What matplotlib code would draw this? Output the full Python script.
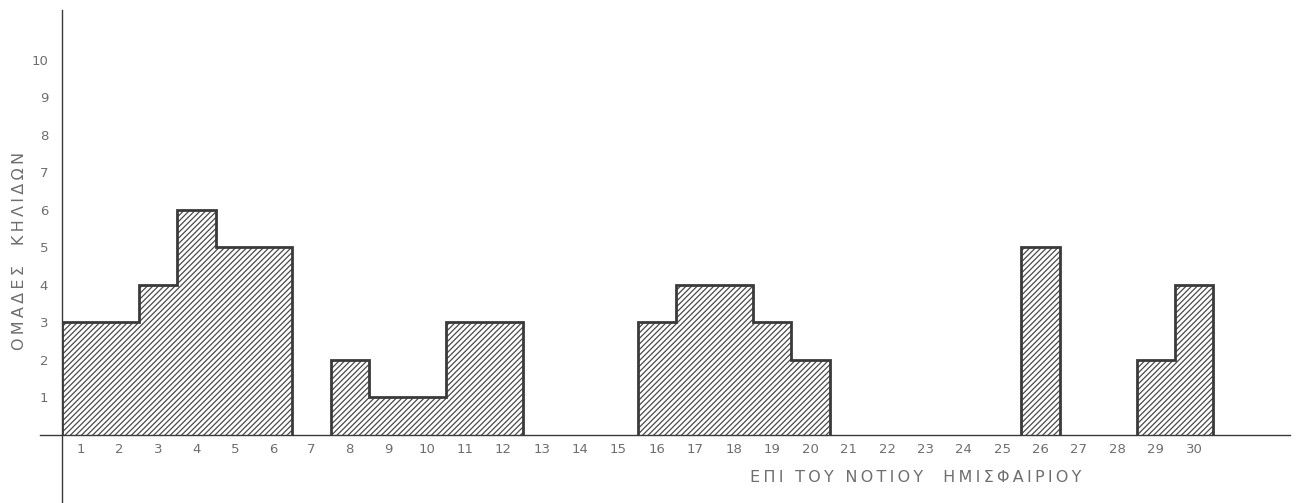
import numpy as np
import matplotlib
matplotlib.use("Agg")
import matplotlib.pyplot as plt

# sunspot groups per day, southern hemisphere
days = list(range(1, 31))
groups = [3, 3, 4, 6, 5, 5, 0, 2, 1, 1,
          3, 3, 0, 0, 0, 3, 4, 4, 3, 2,
          0, 0, 0, 0, 0, 5, 0, 0, 2, 4]
y_ticks = list(range(1, 11))
y_label = "ΟΜΑΔΕΣ  ΚΗΛΙΔΩΝ"
x_label = "ΕΠΙ ΤΟΥ ΝΟΤΙΟΥ  ΗΜΙΣΦΑΙΡΙΟΥ"

plt.rcParams['font.family'] = ['DejaVu Sans']
plt.rcParams['hatch.linewidth'] = 0.9


def spaced(s):
    # typewriter-like letter spacing
    return "\u2009".join(s)


W, H = 1296, 503
fig = plt.figure(figsize=(W / 100, H / 100), dpi=100)
ax = fig.add_axes([62 / W, (H - 435) / H, (1290 - 62) / W, (435 - 10) / H])
ax.set_xlim(0, 32)
ax.set_ylim(0, 11.33)

edges = np.arange(0, len(groups) + 1)
heights = np.array(groups, dtype=float)

ink = "#3a3a3a"
txt = "#6e6e6e"

# hatched fill
ax.stairs(heights, edges, baseline=0, fill=True, hatch="//////",
          facecolor="white", edgecolor="#4a4a4a", linewidth=0)

# outline each block of consecutive non-empty days
i = 0
while i < len(groups):
    if groups[i] > 0:
        j = i
        while j < len(groups) and groups[j] > 0:
            j += 1
        ax.stairs(heights[i:j], edges[i:j + 1], baseline=0, fill=False,
                  color=ink, linewidth=2.0)
        i = j
    else:
        i += 1

# axes lines (the vertical one runs below the baseline as in the scan)
for s in ax.spines.values():
    s.set_visible(False)
ax.plot([-0.57, 32], [0, 0], color=ink, lw=1.0, clip_on=False)
ax.plot([0, 0], [-1.81, 11.33], color=ink, lw=1.0, clip_on=False)

ax.set_xticks(edges[:-1] + 0.5)
ax.set_xticklabels([str(d) for d in days], fontsize=9.5, color=txt)
ax.tick_params(axis="x", length=0, pad=6)
ax.set_yticks(y_ticks)
ax.set_yticklabels([str(v) for v in y_ticks], fontsize=9.5, color=txt)
ax.tick_params(axis="y", length=0, pad=10)

fig.text(20 / W, 1 - 251 / H, spaced(y_label), rotation=90, ha="center",
         va="center", fontsize=11.5, color=txt)
fig.text(916 / W, 1 - 478 / H, spaced(x_label), ha="center", va="center",
         fontsize=11.5, color=txt)

fig.savefig("out.png", dpi=100, facecolor="white")
